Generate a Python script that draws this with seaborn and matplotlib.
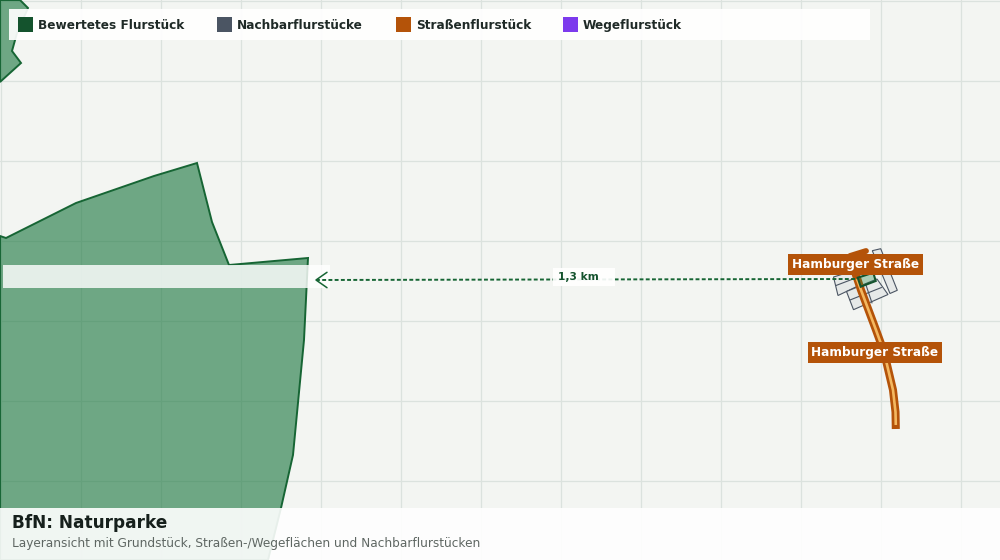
import matplotlib
matplotlib.use("Agg")
import matplotlib.pyplot as plt
import seaborn as sns
import pandas as pd

grid_x = [0, 80, 160, 240, 320, 400, 480, 560, 640, 720, 800, 880, 960]
grid_y = [0, 80, 160, 240, 320, 400, 480]

park_main = [(0, 236), (6, 238), (76, 203), (154, 176), (197, 163), (212, 222), (229, 265),
             (308, 258), (304, 340), (293, 455), (281, 508), (268, 560), (0, 560)]
park_corner = [(0, 0), (20, 0), (28, 8), (17, 33), (12, 51), (21, 63), (0, 82)]

neighbours = [
    [(872.3, 250.7), (880.7, 248.7), (897.3, 290.3), (890, 293.5)],
    [(833.5, 277), (856, 270), (860, 285), (838, 295.5)],
    [(836, 285.5), (857, 277.5)],
    [(846.5, 291.5), (877, 279), (888, 294.5), (853.5, 309.7)],
    [(850, 300), (881.5, 287.5)],
    [(866, 285), (872, 303)],
]
subject = [(857.7, 277.7), (873.3, 272.7), (875.7, 281), (860.7, 286.7)]

road_main = [(853, 266), (861, 290), (876, 330), (884, 352), (893, 390), (895.5, 412), (895.8, 429)]
road_inner = [(857, 279), (861, 290), (876, 330), (884, 352), (893, 390), (895.5, 412), (895.8, 425)]
road_stub = [(850, 256), (866, 251)]

distance_line = [(316, 280), (553, 279.5), (857, 279)]
arrow_head = [(327, 272.3), (316, 280), (327, 287.7)]

legend_names = ["Bewertetes Flurstück", "Nachbarflurstücke", "Straßenflurstück", "Wegeflurstück"]
legend_colors = ["#14532d", "#4b5563", "#b45309", "#7c3aed"]
legend_swatch_x = [18, 217, 396, 563]

street_labels = ["Hamburger Straße", "Hamburger Straße"]
street_label_pos = [(855.5, 264.5), (875, 352.5)]
distance_label = "1,3 km"
title = "BfN: Naturparke"
subtitle = "Layeransicht mit Grundstück, Straßen-/Wegeflächen und Nachbarflurstücken"

sns.set_theme(style="white")
plt.rcParams["font.family"] = "DejaVu Sans"

GREEN = "#14532d"
DGREEN = "#166534"
BROWN = "#b45309"

fig = plt.figure(figsize=(10, 5.6), dpi=100, facecolor="#f3f5f2")
ax = fig.add_axes([0, 0, 1, 1])
ax.set_facecolor("#f3f5f2")
ax.set_xlim(0, 1000)
ax.set_ylim(560, 0)
ax.axis("off")


def line(points, **kw):
    df = pd.DataFrame(points, columns=["x", "y"])
    sns.lineplot(data=df, x="x", y="y", sort=False, estimator=None, ax=ax, legend=False, **kw)


for gx in grid_x:
    ax.axvline(gx + 0.5, color="#dbe2de", lw=0.9, zorder=1)
for gy in grid_y:
    ax.axhline(gy + 0.5, color="#dbe2de", lw=0.9, zorder=1)

for poly in (park_main, park_corner):
    xs, ys = zip(*poly)
    ax.fill(xs, ys, facecolor="#16743b", alpha=0.6, edgecolor="none", zorder=2)
    ax.fill(xs, ys, facecolor="none", edgecolor=DGREEN, lw=1.4, zorder=3)

for n in neighbours:
    xs, ys = zip(*n)
    if len(n) > 2:
        ax.fill(xs, ys, facecolor="#e6e9e8", edgecolor="#4b5563", lw=0.8, zorder=4)
    else:
        ax.plot(xs, ys, color="#4b5563", lw=0.8, zorder=4)

line(road_stub, color=BROWN, lw=4.2, zorder=5)
line(road_main, color=BROWN, lw=5.8, zorder=5, solid_capstyle="butt")
line(road_inner, color="#f4b860", lw=1.9, zorder=6, solid_capstyle="butt")

xs, ys = zip(*subject)
ax.fill(xs, ys, facecolor="#15803d", alpha=0.32, edgecolor="none", zorder=7)
ax.fill(xs, ys, facecolor="none", edgecolor=GREEN, lw=1.5, zorder=7)

ax.fill([3, 330, 330, 3], [265, 265, 288, 288], color="white", alpha=0.82, lw=0, zorder=7)
line(distance_line, color=DGREEN, lw=1.4, linestyle=(0, (2.0, 1.2)), zorder=8)
line(arrow_head, color=DGREEN, lw=1.1, zorder=8)

ax.fill([553, 615, 615, 553], [268, 268, 286, 286], color="white", alpha=0.92, lw=0, zorder=9)
ax.text(578, 277.5, distance_label, ha="center", va="center", fontsize=7.7, fontweight="bold",
        color=GREEN, zorder=10)

for label, (lx, ly) in zip(street_labels, street_label_pos):
    ax.text(lx, ly, label, ha="center", va="center", fontsize=8.75, fontweight="bold", color="white",
            zorder=11, bbox=dict(boxstyle="square,pad=0.3", fc=BROWN, ec="none"))

ax.fill([9, 870, 870, 9], [9, 9, 40, 40], color="white", alpha=0.92, lw=0, zorder=12)
for name, col, sx in zip(legend_names, legend_colors, legend_swatch_x):
    ax.fill([sx, sx + 15, sx + 15, sx], [17, 17, 32, 32], color=col, lw=0, zorder=13)
    ax.text(sx + 20, 25.5, name, ha="left", va="center", fontsize=8.75, fontweight="bold",
            color="#1f2a27", zorder=13)

ax.fill([0, 1000, 1000, 0], [508, 508, 560, 560], color="white", alpha=0.9, lw=0, zorder=12)
ax.text(12, 523.5, title, ha="left", va="center", fontsize=12.2, fontweight="bold", color="#16201c", zorder=13)
ax.text(12, 543.5, subtitle, ha="left", va="center", fontsize=8.7, color="#5f6763", zorder=13)

fig.savefig("out.png", dpi=100, facecolor=fig.get_facecolor())
